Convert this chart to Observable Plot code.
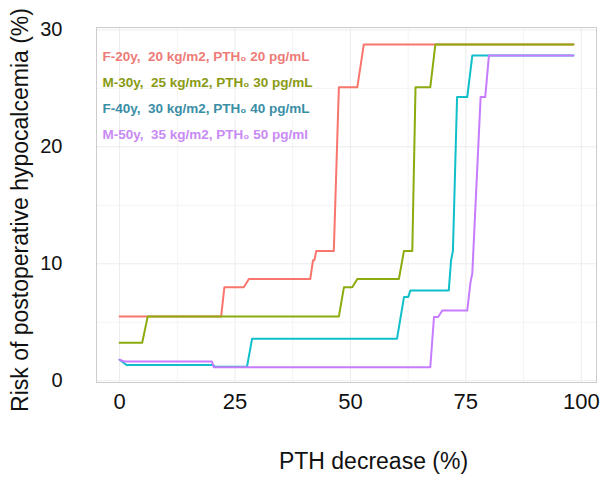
<!DOCTYPE html>
<html>
<head>
<meta charset="utf-8">
<script src="https://cdn.jsdelivr.net/npm/d3@7"></script>
<script src="https://cdn.jsdelivr.net/npm/@observablehq/plot@0.6"></script>
<style>
  html, body { margin: 0; padding: 0; background: #fff; }
</style>
</head>
<body>
<div id="chart"></div>
<script>
// ---- data ----
const seriesNames = [
  "F-20y,  20 kg/m2, PTH₀ 20 pg/mL",
  "M-30y,  25 kg/m2, PTH₀ 30 pg/mL",
  "F-40y,  30 kg/m2, PTH₀ 40 pg/mL",
  "M-50y,  35 kg/m2, PTH₀ 50 pg/ml"
];
const lineColors = ["#F8766D", "#8CAB0F", "#10BFCA", "#C77CFF"];
const textColors = ["#EE7B77", "#8A9A14", "#3A8EA6", "#C98AF4"];

const f20x = [0, 22.0, 22.7, 26.9, 28.0, 41.3, 41.9, 42.2, 42.6, 46.4, 47.5, 51.5, 52.9, 98.3];
const f20y = [5.5, 5.5, 8.0, 8.0, 8.7, 8.7, 10.3, 10.3, 11.1, 11.1, 25.1, 25.1, 28.75, 28.75];

const m30x = [0, 4.9, 6.1, 47.5, 48.6, 50.4, 51.5, 60.5, 61.6, 63.4, 64.1, 67.3, 68.4, 98.3];
const m30y = [3.25, 3.25, 5.5, 5.5, 8.0, 8.0, 8.7, 8.7, 11.1, 11.1, 25.1, 25.1, 28.75, 28.75];

const f40x = [0, 1.5, 20.3, 20.6, 27.6, 28.7, 60.1, 61.6, 62.5, 63.0, 71.3, 71.8, 72.2, 73.1, 75.3, 76.4, 98.3];
const f40y = [1.8, 1.35, 1.35, 1.2, 1.2, 3.6, 3.6, 7.15, 7.15, 7.72, 7.72, 10.3, 11.1, 24.25, 24.25, 27.8, 27.8];

const m50x = [0, 1.0, 20.0, 20.4, 67.3, 68.1, 69.0, 69.9, 75.3, 76.0, 76.4, 78.2, 79.2, 80.0, 98.3];
const m50y = [1.8, 1.65, 1.65, 1.15, 1.15, 5.45, 5.45, 6.0, 6.0, 8.4, 9.2, 24.25, 24.25, 27.8, 27.8];

const xTicks = [0, 25, 50, 75, 100];
const xMinor = [12.5, 37.5, 62.5, 87.5];
const yTicks = [0, 10, 20, 30];
const yMinor = [5, 15, 25];
const xTitle = "PTH decrease (%)";
const yTitle = "Risk of postoperative hypocalcemia (%)";

// ---- build table ----
const allX = [f20x, m30x, f40x, m50x];
const allY = [f20y, m30y, f40y, m50y];
const rows = [];
seriesNames.forEach((s, i) => {
  allX[i].forEach((x, j) => rows.push({series: s, x, y: allY[i][j]}));
});

const font = "'Liberation Sans', Arial, Helvetica, sans-serif";

const legendMarks = seriesNames.map((s, i) =>
  Plot.text([s], {
    frameAnchor: "top-left", dx: 6, dy: 29 + 26 * i,
    textAnchor: "start", lineAnchor: "middle",
    fill: textColors[i], fontWeight: "bold", fontSize: 13.5
  })
);

const chart = Plot.plot({
  width: 616,
  height: 478,
  marginLeft: 96,
  marginRight: 20,
  marginTop: 27,
  marginBottom: 96,
  style: {fontFamily: font, background: "#fff", color: "#111"},
  x: {domain: [-5, 103.3]},
  y: {domain: [-0.15, 30.2]},
  color: {domain: seriesNames, range: lineColors},
  marks: [
    Plot.gridX(xMinor, {stroke: "#f4f4f4", strokeOpacity: 1}),
    Plot.gridX(xTicks, {stroke: "#ececec", strokeOpacity: 1}),
    Plot.gridY(yMinor, {stroke: "#f4f4f4", strokeOpacity: 1}),
    Plot.gridY(yTicks, {stroke: "#ececec", strokeOpacity: 1}),
    Plot.frame({stroke: "#cccccc"}),
    Plot.axisX(xTicks, {tickSize: 0, tickPadding: 11, fontSize: 22, label: null}),
    Plot.axisY(yTicks, {tickSize: 0, tickPadding: 34, fontSize: 20, label: null}),
    Plot.line(rows, {x: "x", y: "y", z: "series", stroke: "series", strokeWidth: 2, curve: "linear"}),
    ...legendMarks,
    Plot.text([xTitle], {frameAnchor: "bottom", dy: 79, dx: 27, fontSize: 23, textAnchor: "middle", lineAnchor: "middle", fill: "#111"}),
    Plot.text([yTitle], {frameAnchor: "left", dx: -76, dy: 5, rotate: -90, fontSize: 23, textAnchor: "middle", lineAnchor: "middle", fill: "#111"})
  ]
});
document.getElementById("chart").appendChild(chart);
</script>
</body>
</html>
